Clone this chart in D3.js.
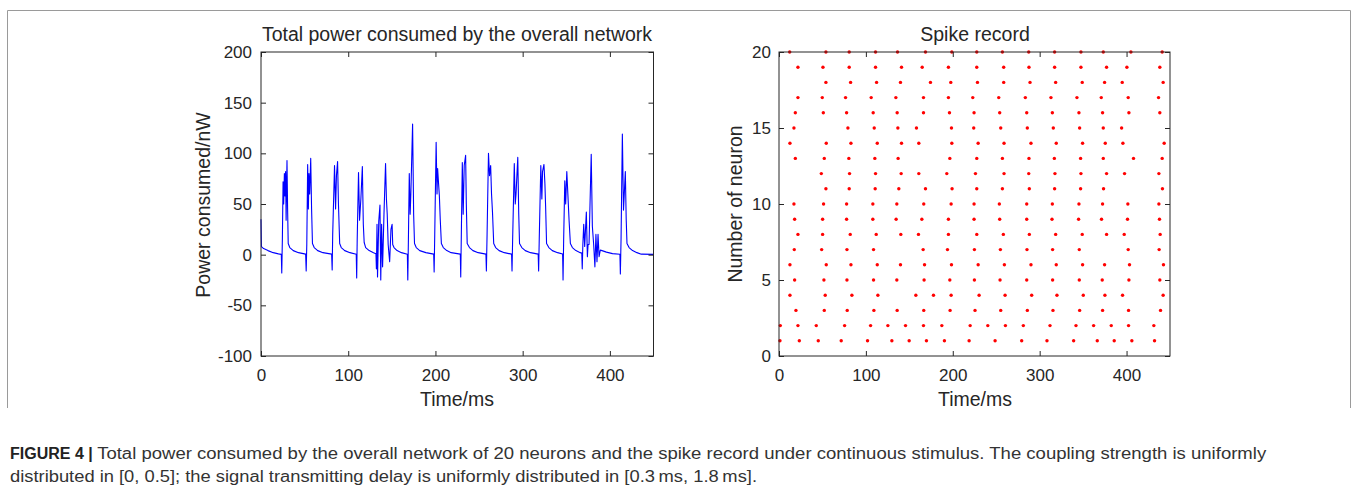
<!DOCTYPE html>
<html>
<head>
<meta charset="utf-8">
<script src="https://cdn.jsdelivr.net/npm/d3@7"></script>
<style>
  body { margin: 0; background: #fff; }
  svg { display: block; font-family: "Liberation Sans", Arial, sans-serif; }
  .axis text { fill: #262626; font-size: 17px; }
  .axis path, .axis line { stroke: #262626; }
</style>
</head>
<body>
<svg id="fig" width="1358" height="492"></svg>
<script>
// total power of the network, [time ms, power nW]
const power = [
  [0, 35], [0.5, 8], [3, 6], [8, 4], [14, 2], [20, 0.8], [23.3, 0.3],
  [23.8, -18], [24.5, 15], [25.3, 72], [26, 50], [26.8, 80], [27.5, 58], [28.2, 82], [28.8, 34], [29.8, 93], [30.5, 45], [31.2, 11],
  [33, 7], [37, 4], [43, 2], [51.2, 0.5],
  [51.8, -16], [52.5, 10], [53.5, 89], [54.3, 45], [55, 80], [55.8, 60], [57, 95], [58, 45], [59, 11],
  [61, 7], [65, 4], [71, 2], [81, 0.5],
  [81.6, -15], [82.2, 20], [84.3, 88], [85.5, 45], [86.5, 78], [87.8, 92], [88.8, 50], [90.2, 11],
  [92, 7], [96, 4], [102, 2], [109.2, 0.5],
  [109.7, -23], [110.3, 15], [111.8, 81], [113, 34], [114.5, 55], [116.2, 87], [117.3, 30], [118.3, 12],
  [120, 7], [124, 4], [129, 2], [131.8, 1],
  [132.3, -14], [133, 30], [133.6, -22], [135, 33], [136.4, 49], [137.3, -25], [138.3, 30], [139.4, -12], [141, 40], [142.8, 90],
  [143.8, 55], [144.7, 40], [145.8, 10], [147.5, -7], [149, 25], [150.3, 30], [151, 10],
  [152.5, 7], [156, 4], [161, 2], [167.8, 0.5],
  [168.3, -25], [169, 15], [170, 80], [171, 40], [171.8, 60], [173.8, 129], [175, 40], [176, 11],
  [178, 7], [182, 4], [189, 2], [198, 0.5],
  [198.5, -17], [199.2, 20], [200.8, 111], [201.8, 60], [202.5, 85], [203.6, 70], [204.5, 58], [205.5, 35], [206.8, 11],
  [209, 7], [213, 4], [218, 2], [228.5, 0.5],
  [229, -22], [229.6, 15], [230.8, 91], [231.8, 40], [233, 88], [234.6, 98], [235.4, 50], [236.4, 11],
  [239, 7], [243, 4], [249, 2], [257.9, 0.5],
  [258.4, -16], [259.2, 20], [260.8, 100], [262, 78], [263.3, 88], [264.3, 60], [265.4, 42], [266.8, 11],
  [269, 7], [273, 4], [279, 2], [287.3, 0.5],
  [287.8, -16], [288.5, 15], [290.4, 90], [291.5, 50], [292.4, 60], [294.4, 96], [295.5, 40], [296.4, 11],
  [299, 7], [303, 4], [309, 2], [317.8, 0.5],
  [318.3, -16], [319, 15], [320.8, 88], [322, 55], [322.8, 82], [324.4, 89], [325.5, 70], [326.3, 48], [327.4, 11],
  [330, 7], [334, 4], [340, 2], [345.8, 0.6],
  [346.3, -25], [347, 15], [348.3, 73], [349.3, 50], [350.6, 82], [351.8, 60], [353.2, 34], [354.7, 11],
  [357, 7], [361, 4], [366, 2], [367.8, 1.5],
  [368.3, -14], [369, 10], [370, 30], [371.1, 8], [373, 42], [374.2, -2], [375, 10], [376.1, 10], [378.6, 99], [379.9, 28],
  [381.4, 10], [382.8, -12], [384, 20], [385.2, -7], [386.4, 20], [387.6, -2], [389, 4.5],
  [391, 4], [396, 2.5], [403, 1], [411.5, 0.4],
  [412, -19], [412.8, 15], [414.3, 119], [415.6, 44], [416.5, 60], [417.7, 82], [418.7, 35], [419.6, 11],
  [422, 7], [426, 4], [431, 2], [436, 0.5], [450, 0.3]
];

// spike times (ms) for neurons 1..20
const spikes = [
  [1.1, 23.4, 45.2, 71.6, 101.9, 129.9, 149.8, 169.7, 190.4, 218.8, 248.7, 279.3, 308.4, 339.1, 366.3, 385.8, 406.1, 432.2],
  [1.5, 21.8, 42.9, 75.5, 105.4, 125.3, 145.6, 166.3, 187.4, 220.0, 240.3, 260.6, 281.2, 311.9, 341.8, 362.1, 382.4, 402.3, 431.4],
  [19.5, 52.1, 78.5, 109.2, 136.0, 166.6, 196.9, 225.6, 255.2, 285.8, 315.3, 346.0, 372.4, 402.3, 439.1],
  [12.6, 53.2, 83.9, 113.8, 157.5, 177.8, 198.1, 230.3, 260.2, 290.8, 319.9, 350.2, 375.1, 395.4, 442.1],
  [18.0, 51.7, 78.2, 108.8, 135.6, 167.0, 196.6, 224.9, 254.4, 285.1, 314.9, 345.6, 372.0, 402.7, 438.3],
  [12.6, 54.4, 82.8, 113.1, 139.8, 167.5, 198.5, 229.2, 259.4, 290.0, 319.1, 349.4, 374.7, 403.4, 442.5],
  [17.6, 49.1, 78.2, 108.8, 165.9, 193.9, 224.9, 254.8, 285.4, 314.9, 345.6, 401.9, 437.5],
  [21.8, 50.2, 82.0, 111.9, 140.2, 160.5, 195.0, 227.6, 258.2, 288.1, 318.4, 349.0, 377.0, 397.3, 438.7],
  [18.0, 50.2, 77.8, 108.0, 134.8, 164.4, 195.0, 224.5, 254.0, 285.1, 314.2, 344.8, 371.2, 401.1, 437.9],
  [17.2, 51.3, 77.8, 108.0, 135.6, 166.6, 198.1, 224.5, 253.6, 285.1, 314.6, 345.2, 372.4, 401.5, 437.2],
  [54.0, 80.8, 110.7, 137.9, 168.6, 199.2, 227.6, 257.1, 288.1, 317.2, 347.1, 373.5, 441.3],
  [48.7, 81.2, 111.1, 140.6, 160.9, 193.1, 226.1, 259.0, 287.4, 317.6, 347.5, 377.0, 397.7, 437.2],
  [18.8, 52.1, 80.4, 110.3, 137.1, 196.6, 227.6, 257.1, 287.7, 316.9, 347.1, 373.2, 408.0, 441.0],
  [12.6, 54.4, 82.8, 113.1, 141.0, 160.9, 198.9, 229.2, 259.0, 290.0, 319.1, 349.4, 375.5, 395.8, 443.3],
  [17.2, 79.3, 109.6, 136.8, 158.2, 198.5, 224.1, 255.2, 285.8, 315.7, 346.0, 373.2, 394.3],
  [18.8, 51.0, 77.8, 108.4, 136.0, 166.3, 196.2, 224.5, 254.0, 285.1, 314.6, 345.2, 372.4, 402.7, 438.3],
  [21.8, 49.8, 76.6, 106.1, 134.5, 166.3, 195.0, 223.0, 252.9, 283.5, 313.0, 342.9, 370.9, 401.9, 436.8],
  [54.0, 82.4, 112.3, 139.8, 174.3, 197.7, 228.4, 258.6, 288.9, 318.4, 349.0, 374.7, 395.0, 442.1],
  [21.8, 50.6, 80.8, 111.1, 141.0, 164.8, 195.0, 227.6, 258.6, 287.7, 317.2, 347.5, 377.0, 400.4, 438.3],
  [12.3, 54.0, 80.8, 111.1, 136.4, 168.6, 198.9, 227.6, 257.1, 287.4, 317.2, 347.5, 373.2, 405.0, 441.0]
];

const timeTicks = [0, 100, 200, 300, 400];
const powerTicks = [-100, -50, 0, 50, 100, 150, 200];
const neuronTicks = [0, 5, 10, 15, 20];

const svg = d3.select('#fig');
svg.append('rect').attr('width', 1358).attr('height', 492).attr('fill', '#fff');

// figure frame
svg.append('path')
  .attr('d', 'M7.5,408 V10.5 H1350.5 V408')
  .attr('fill', 'none')
  .attr('stroke', '#9a9a9a');

const plotTop = 52, plotBottom = 356;
const plain = (d) => String(d); // matlab style hyphen minus

function drawAxes(x, y, xTicks, yTicks, ypad) {
  const g = svg.append('g');
  const [x0, x1] = x.range();
  g.append('g').attr('class', 'axis')
    .attr('transform', `translate(0,${plotBottom})`)
    .call(d3.axisBottom(x).tickValues(xTicks).tickSizeInner(-5).tickSizeOuter(0).tickPadding(13).tickFormat(plain));
  g.append('g').attr('class', 'axis')
    .attr('transform', `translate(0,${plotTop})`)
    .call(d3.axisTop(x).tickValues(xTicks).tickSizeInner(-5).tickSizeOuter(0).tickFormat(''));
  g.append('g').attr('class', 'axis')
    .attr('transform', `translate(${x0},0)`)
    .call(d3.axisLeft(y).tickValues(yTicks).tickSizeInner(-5).tickSizeOuter(0).tickPadding(ypad).tickFormat(plain));
  g.append('g').attr('class', 'axis')
    .attr('transform', `translate(${x1},0)`)
    .call(d3.axisRight(y).tickValues(yTicks).tickSizeInner(-5).tickSizeOuter(0).tickFormat(''));
  g.selectAll('.axis .domain').remove();
  g.append('rect')
    .attr('x', x0).attr('y', plotTop)
    .attr('width', x1 - x0).attr('height', plotBottom - plotTop)
    .attr('fill', 'none').attr('stroke', '#262626');
  return g;
}

function label(text, x, y, size, rotate) {
  svg.append('text')
    .attr('transform', `translate(${x},${y})` + (rotate ? ' rotate(-90)' : ''))
    .attr('text-anchor', 'middle')
    .attr('dominant-baseline', 'middle')
    .attr('fill', '#262626')
    .attr('font-size', size)
    .text(text);
}

// left panel: power
const xL = d3.scaleLinear().domain([0, 450]).range([261, 653.5]);
const yL = d3.scaleLinear().domain([-100, 200]).range([plotBottom, plotTop]);

svg.append('path')
  .datum(power)
  .attr('fill', 'none')
  .attr('stroke', '#0000ff')
  .attr('stroke-width', 1.1)
  .attr('stroke-linejoin', 'round')
  .attr('d', d3.line().x((d) => xL(d[0])).y((d) => yL(d[1])));

drawAxes(xL, yL, timeTicks, powerTicks, 9);
label('Total power consumed by the overall network', 457, 36, 19.5);
label('Time/ms', 457, 401, 19.5);
label('Power consumed/nW', 205, 205, 19.5, true);

// right panel: spike raster
const xR = d3.scaleLinear().domain([0, 450]).range([779, 1170]);
const yR = d3.scaleLinear().domain([0, 20]).range([plotBottom, plotTop]);

const dots = spikes.flatMap((times, i) => times.map((t) => ({ t, n: i + 1 })));
svg.append('g')
  .selectAll('circle')
  .data(dots)
  .join('circle')
  .attr('cx', (d) => xR(d.t))
  .attr('cy', (d) => yR(d.n))
  .attr('r', 1.7)
  .attr('fill', '#ff0000');

drawAxes(xR, yR, timeTicks, neuronTicks, 8);
label('Spike record', 975, 36, 19.5);
label('Time/ms', 975, 401, 19.5);
label('Number of neuron', 737, 204, 19.5, true);

// caption
const cap = svg.append('text')
  .attr('x', 10).attr('y', 459)
  .attr('font-size', 16)
  .attr('fill', '#333');
cap.append('tspan').attr('font-weight', 'bold').attr('fill', '#222').text('FIGURE 4 | ');
cap.append('tspan')
  .attr('textLength', 1169)
  .attr('lengthAdjust', 'spacingAndGlyphs')
  .text('Total power consumed by the overall network of 20 neurons and the spike record under continuous stimulus. The coupling strength is uniformly');
svg.append('text')
  .attr('x', 10).attr('y', 482)
  .attr('font-size', 16)
  .attr('fill', '#333')
  .attr('textLength', 747)
  .attr('lengthAdjust', 'spacingAndGlyphs')
  .text('distributed in [0, 0.5]; the signal transmitting delay is uniformly distributed in [0.3\u2009ms, 1.8\u2009ms].');
</script>
</body>
</html>
